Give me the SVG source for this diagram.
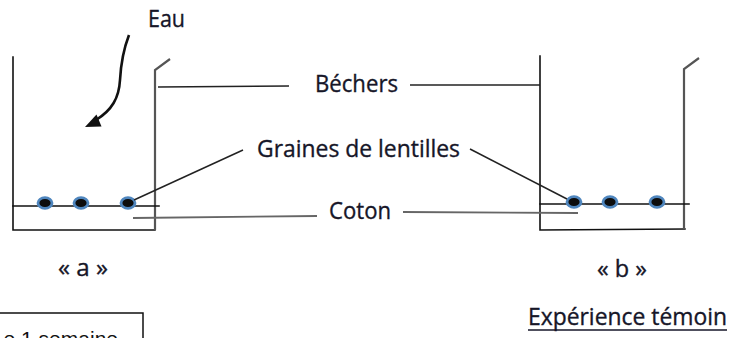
<svg xmlns="http://www.w3.org/2000/svg" width="729" height="338" viewBox="0 0 729 338">
<style>
.wall{fill:none;stroke:#111;stroke-width:1.6;stroke-linecap:square}
.wall2{fill:none;stroke:#555;stroke-width:2.2}
.lead{fill:none;stroke:#222;stroke-width:1.5}
.lead2{fill:none;stroke:#666;stroke-width:1.8}
.seed{fill:#0d0d0d;stroke:#4f86be;stroke-width:2.8}
.lbl{font-family:"Open Sans","Noto Sans",sans-serif;font-size:24px;fill:#161628;stroke:#161628;stroke-width:0.35}
</style>
<defs>
<ellipse id="s" class="seed" cx="0" cy="0" rx="7" ry="5.3"/>
</defs>
<rect width="729" height="338" fill="#fff"/>
<g id="beaker-a">
<path class="wall" d="M13,57 V230 H155"/>
<path class="wall2" d="M155,230 V70 L170,59"/>
<line class="wall" x1="13" y1="206" x2="159" y2="206"/>
<use href="#s" x="45" y="203"/>
<use href="#s" x="81" y="203"/>
<use href="#s" x="128" y="203"/>
</g>
<g id="beaker-b">
<path class="wall" d="M540,56 V230 L685,229"/>
<path class="wall2" d="M684,229 V69 L699,58"/>
<line class="wall" x1="540" y1="204" x2="689" y2="204"/>
<use href="#s" x="574" y="202"/>
<use href="#s" x="610" y="202"/>
<use href="#s" x="657" y="202"/>
</g>
<g id="connectors">
<path d="M129,35 C124,48 121,62 120,80 C119,98 112,110 96,120" fill="none" stroke="#111" stroke-width="2.6"/>
<polygon points="85,127 96.5,114.5 101.5,126.5" fill="#111"/>
<line class="lead" x1="158" y1="87" x2="289" y2="86"/>
<line class="lead" x1="410" y1="85" x2="540" y2="85"/>
<line class="lead" x1="243" y1="150" x2="134" y2="200"/>
<line class="lead" x1="470" y1="149" x2="567" y2="199"/>
<line class="lead2" x1="133" y1="218" x2="317" y2="216"/>
<line class="lead2" x1="403" y1="212" x2="578" y2="213"/>
</g>
<g id="label-eau"><text class="lbl" x="148" y="27" font-size="23" textLength="37" lengthAdjust="spacingAndGlyphs">Eau</text></g>
<g id="label-bechers"><text class="lbl" x="315" y="92" textLength="83" lengthAdjust="spacingAndGlyphs">Béchers</text></g>
<g id="label-graines"><text class="lbl" x="257" y="157" textLength="203" lengthAdjust="spacingAndGlyphs">Graines de lentilles</text></g>
<g id="label-coton"><text class="lbl" x="329" y="219" textLength="62" lengthAdjust="spacingAndGlyphs">Coton</text></g>
<g id="label-a"><text class="lbl" x="58" y="276" textLength="50" lengthAdjust="spacingAndGlyphs">« a »</text></g>
<g id="label-b"><text class="lbl" x="597" y="277" textLength="50" lengthAdjust="spacingAndGlyphs">« b »</text></g>
<g id="label-temoin">
<text class="lbl" x="528" y="325" textLength="199" lengthAdjust="spacingAndGlyphs">Expérience témoin</text>
<line x1="528" y1="330" x2="727" y2="330" stroke="#161628" stroke-width="1.5"/>
</g>
<g id="box-semaine">
<path d="M-2,313 H143 V340" fill="none" stroke="#111" stroke-width="1.5"/>
<text x="118" y="346" text-anchor="end" font-family="'Liberation Sans',Arial,sans-serif" font-size="21" fill="#111">e 1 semaine</text>
</g>
</svg>
